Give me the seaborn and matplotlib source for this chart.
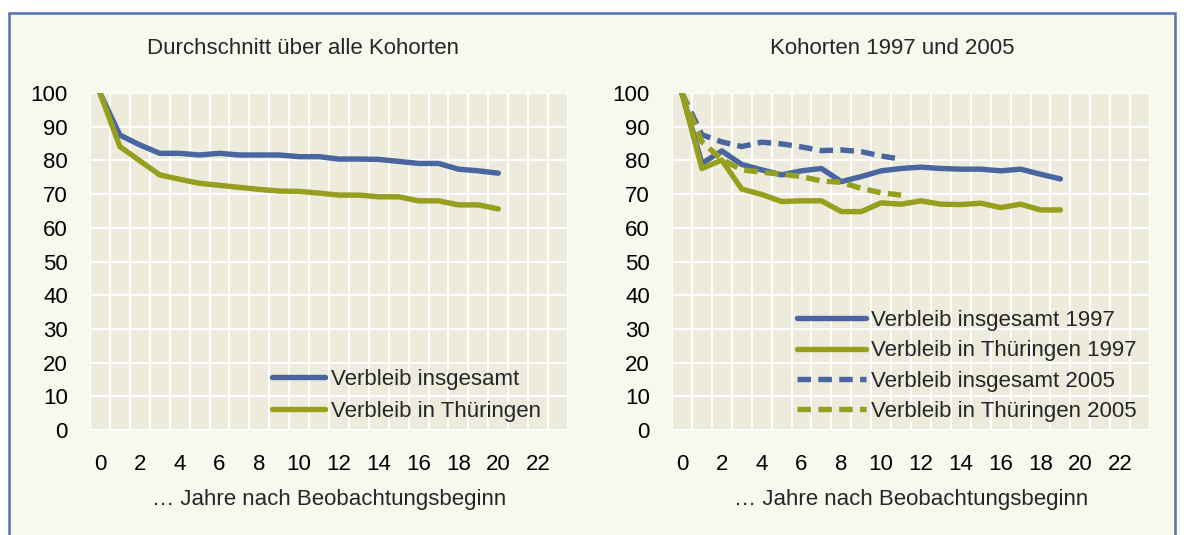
import matplotlib
matplotlib.use("Agg")
import matplotlib.pyplot as plt
from matplotlib.patches import Rectangle
import seaborn as sns
import pandas as pd

# ---- data ----
years_avg = list(range(0, 21))
avg_insgesamt = [100, 87.5, 84.6, 82.1, 82.1, 81.6, 82.1, 81.6, 81.6, 81.6, 81.1,
                 81.1, 80.4, 80.4, 80.3, 79.7, 79.1, 79.1, 77.4, 76.9, 76.2]
avg_thueringen = [100, 84.1, 79.9, 75.7, 74.4, 73.2, 72.6, 72.0, 71.4, 70.9, 70.8,
                  70.3, 69.7, 69.7, 69.2, 69.2, 68.0, 68.0, 66.8, 66.8, 65.6]

years_1997 = list(range(0, 20))
ins_1997 = [100, 79.1, 82.8, 78.8, 77.2, 75.7, 76.9, 77.6, 73.7, 75.2, 76.9,
            77.6, 78.0, 77.6, 77.4, 77.4, 76.9, 77.4, 75.9, 74.5]
thu_1997 = [100, 77.6, 80.1, 71.5, 69.9, 67.8, 68.0, 68.0, 64.8, 64.8, 67.4,
            67.0, 68.0, 67.0, 66.9, 67.3, 66.0, 67.0, 65.3, 65.3]

years_2005 = list(range(0, 12))
ins_2005 = [100, 87.6, 85.5, 84.1, 85.4, 84.9, 84.0, 82.9, 83.1, 82.6, 81.3, 80.4]
thu_2005 = [100, 85.5, 80.3, 77.2, 76.5, 75.9, 75.2, 73.9, 73.5, 71.7, 70.4, 69.7]

x_ticks = list(range(0, 23, 2))
y_ticks = list(range(0, 101, 10))

title_left = "Durchschnitt über alle Kohorten"
title_right = "Kohorten 1997 und 2005"
xlabel = "… Jahre nach Beobachtungsbeginn"

# ---- style ----
sns.set_style("white")
plt.rcParams["font.family"] = ["Liberation Sans", "DejaVu Sans"]

BLUE = "#4A66A1"
OLIVE = "#979F1E"
PLOT_BG = "#EDEBDC"
OUTER_BG = "#F8F9EE"
BORDER = "#5373AC"
FS = 16
LW = 3.9
DASH = (0, (2.5, 1.35))

W, H = 1184, 535
fig = plt.figure(figsize=(W / 100, H / 100), dpi=100)
fig.patch.set_facecolor("white")

bg = fig.add_axes([0, 0, 1, 1], zorder=-10)
bg.set_axis_off()
bg.set_xlim(0, W)
bg.set_ylim(H, 0)
bg.add_patch(Rectangle((9, 13), 1175 - 9, H + 20, facecolor=OUTER_BG,
                       edgecolor=BORDER, linewidth=1.8))


def style_axes(ax):
    ax.set_facecolor(PLOT_BG)
    ax.set_xlim(-0.5, 23.5)
    ax.set_ylim(0, 100)
    ax.set_xticks(x_ticks)
    ax.set_xticklabels([str(t) for t in x_ticks])
    ax.set_xticks([k - 0.5 for k in range(0, 25)], minor=True)
    ax.set_yticks(y_ticks)
    ax.set_yticklabels([str(t) for t in y_ticks])
    ax.grid(False)
    ax.grid(True, which="minor", axis="x", color="white", linewidth=1.5)
    ax.grid(True, which="major", axis="y", color="white", linewidth=1.5)
    ax.set_axisbelow(True)
    for s in ax.spines.values():
        s.set_visible(False)
    ax.tick_params(axis="both", which="both", length=0, labelsize=FS, colors="black")
    ax.tick_params(axis="y", pad=16)
    ax.tick_params(axis="x", pad=17)
    ax.set_xlabel(xlabel, fontsize=FS, labelpad=10)
    ax.set_ylabel("")


ax1 = fig.add_axes([90 / W, (H - 430) / H, 478 / W, 337 / H])
ax2 = fig.add_axes([672 / W, (H - 430) / H, 478 / W, 337 / H])

df_avg = pd.DataFrame({"Jahr": years_avg, "ins": avg_insgesamt, "thu": avg_thueringen})
df97 = pd.DataFrame({"Jahr": years_1997, "ins": ins_1997, "thu": thu_1997})
df05 = pd.DataFrame({"Jahr": years_2005, "ins": ins_2005, "thu": thu_2005})

sns.lineplot(data=df_avg, x="Jahr", y="ins", ax=ax1, color=BLUE, linewidth=LW,
             label="Verbleib insgesamt")
sns.lineplot(data=df_avg, x="Jahr", y="thu", ax=ax1, color=OLIVE, linewidth=LW,
             label="Verbleib in Thüringen")

sns.lineplot(data=df97, x="Jahr", y="ins", ax=ax2, color=BLUE, linewidth=LW,
             label="Verbleib insgesamt 1997")
sns.lineplot(data=df97, x="Jahr", y="thu", ax=ax2, color=OLIVE, linewidth=LW,
             label="Verbleib in Thüringen 1997")
sns.lineplot(data=df05, x="Jahr", y="ins", ax=ax2, color=BLUE, linewidth=LW,
             linestyle=DASH, label="Verbleib insgesamt 2005")
sns.lineplot(data=df05, x="Jahr", y="thu", ax=ax2, color=OLIVE, linewidth=LW,
             linestyle=DASH, label="Verbleib in Thüringen 2005")

for ln in ax1.lines + ax2.lines:
    ln.set_solid_joinstyle("round")
    ln.set_dash_capstyle("butt")

style_axes(ax1)
style_axes(ax2)

ax1.legend(loc="upper left", bbox_to_anchor=((272 - 90) / 478, (430 - 369) / 337),
           frameon=False, fontsize=FS, borderpad=0, borderaxespad=0,
           handlelength=2.4, handletextpad=0.25, labelspacing=0.5)
ax2.legend(loc="upper left", bbox_to_anchor=((797 - 672) / 478, (430 - 310) / 337),
           frameon=False, fontsize=FS, borderpad=0, borderaxespad=0,
           handlelength=3.1, handletextpad=0.25, labelspacing=0.42)

fig.text(303 / W, 1 - 48 / H, title_left, fontsize=FS, ha="center", va="center")
fig.text(892 / W, 1 - 48 / H, title_right, fontsize=FS, ha="center", va="center")

fig.savefig("out.png", dpi=100, facecolor=fig.get_facecolor())
